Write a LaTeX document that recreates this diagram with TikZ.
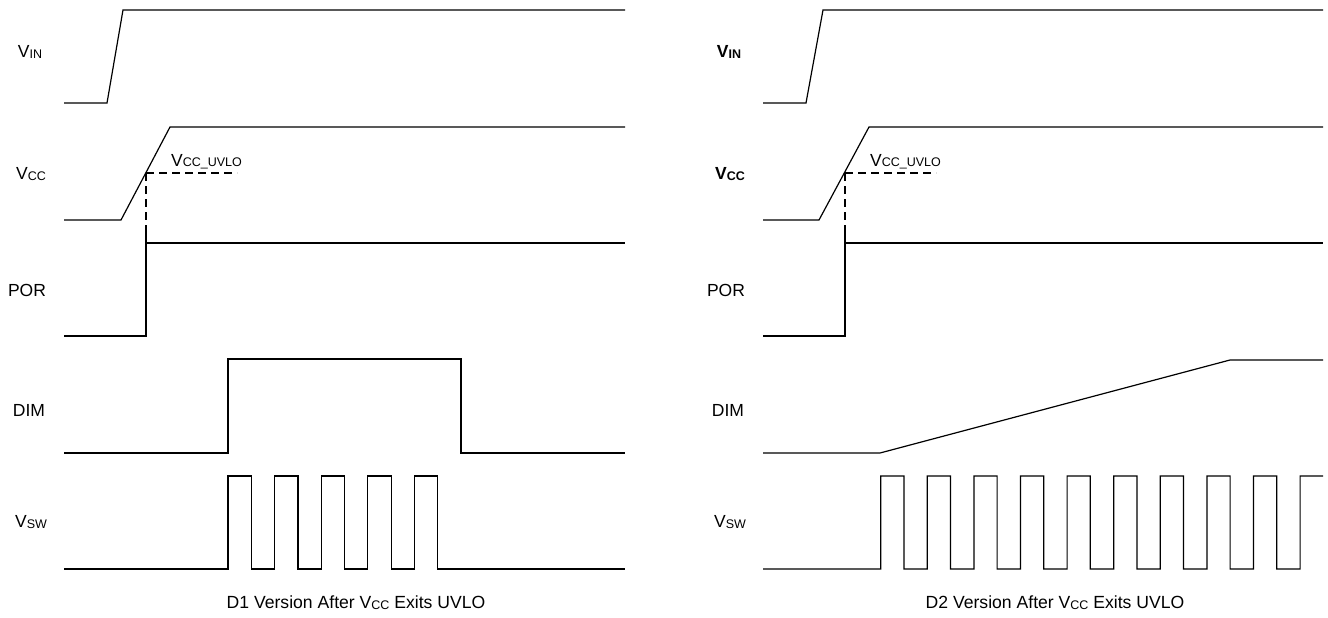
\documentclass[tikz,border=0pt]{standalone}
\usepackage{fontspec}
\setmainfont{Liberation Sans}
\newcommand{\lowtxt}[1]{\raisebox{-0.8pt}{\fontsize{12.5}{12.5}\selectfont #1}}
\begin{document}
\begin{tikzpicture}[x=1pt,y=-1pt,
  wave/.style={line width=1.2pt,line join=miter},
  thr/.style={line width=1.1pt,dash pattern=on 8pt off 5pt},
  lbl/.style={font=\fontsize{17.5}{17.5}\selectfont,inner sep=0pt},
  captxt/.style={font=\fontsize{17.6}{17.6}\selectfont,inner sep=0pt}]
\useasboundingbox (0,0) rectangle (1328,618);
% ---------- left panel ----------
\node[lbl] (lvin) at (30,52) {V\lowtxt{IN}};
\node[lbl] (lvcc) at (31,174) {V\lowtxt{CC}};
\node[lbl] (lpor) at (27,290) {POR};
\node[lbl] (ldim) at (29,410) {DIM};
\node[lbl] (lvsw) at (31,522) {V\lowtxt{SW}};
\node[lbl,anchor=base west] (luvlo) at (171,166) {V\lowtxt{CC\_UVLO}};
\node[captxt] (lcap) at (356,603) {D1 Version After V\lowtxt{CC} Exits UVLO};
\draw[wave] (64,103) -- (107,103) -- (123,10) -- (625,10);
\draw[wave] (64,220) -- (121,220) -- (170,127) -- (625,127);
\draw[thr] (146,173) -- (237,173);
\draw[thr] (146,173) -- (146,233);
\draw[wave] (64,336) -- (146,336) -- (146,233);
\draw[wave] (146,243) -- (625,243);
\draw[line width=2pt] (297,243) -- (322,243);
\draw[wave] (64,453) -- (228,453) -- (228,359) -- (461,359) -- (461,453) -- (625,453);
\draw[wave] (64,569) -- (228,569)
  \foreach \k in {0,...,4} {
    -- (228+46.6*\k,476) -- (251.4+46.6*\k,476) -- (251.4+46.6*\k,569) -- (274.6+46.6*\k,569)
  };
\draw[wave] (438,569) -- (625,569);
% ---------- right panel ----------
\node[lbl,font=\fontsize{17.5}{17.5}\selectfont\bfseries] (rvin) at (729,52) {V\lowtxt{IN}};
\node[lbl,font=\fontsize{17.5}{17.5}\selectfont\bfseries] (rvcc) at (730,174) {V\lowtxt{CC}};
\node[lbl] (rpor) at (726,290) {POR};
\node[lbl] (rdim) at (728,410) {DIM};
\node[lbl] (rvsw) at (730,522) {V\lowtxt{SW}};
\node[lbl,anchor=base west] (ruvlo) at (870,166) {V\lowtxt{CC\_UVLO}};
\node[captxt] (rcap) at (1055,603) {D2 Version After V\lowtxt{CC} Exits UVLO};
\draw[wave] (763,103) -- (806,103) -- (823,10) -- (1323,10);
\draw[wave] (763,220) -- (819,220) -- (869,127) -- (1323,127);
\draw[thr] (845,173) -- (936,173);
\draw[thr] (845,173) -- (845,233);
\draw[wave] (763,336) -- (845,336) -- (845,233);
\draw[wave] (845,243) -- (1323,243);
\draw[line width=1.6pt] (996,243) -- (1021,243);
\draw[wave] (763,453) -- (880,453) -- (1230,360) -- (1323,360);
\draw[wave] (763,569) -- (880.7,569)
  \foreach \k in {0,...,8} {
    -- (880.7+46.6*\k,476) -- (903.9+46.6*\k,476) -- (903.9+46.6*\k,569) -- (927.3+46.6*\k,569)
  } -- (1300.1,476) -- (1323,476);
\end{tikzpicture}
\end{document}
